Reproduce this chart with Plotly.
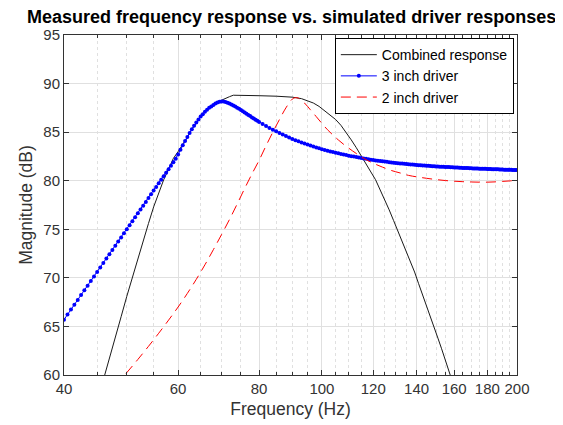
import numpy as np
import plotly.graph_objects as go

# 3 inch driver (simulated): 0.5 Hz steps 40-80 Hz, then 1 Hz steps 81-200 Hz
freq_3in = np.concatenate([np.arange(40, 80.5, 0.5), np.arange(81, 201, 1)])
mag_3in = [
    # 40 - 60 Hz
    65.7, 66.22, 66.73, 67.23, 67.73, 68.23, 68.72, 69.2, 69.67, 70.14,
    70.61, 71.07, 71.53, 71.98, 72.42, 72.86, 73.3, 73.73, 74.16, 74.58,
    75.0, 75.42, 75.83, 76.24, 76.64, 77.04, 77.43, 77.82, 78.21, 78.6,
    78.98, 79.36, 79.73, 80.1, 80.47, 80.83, 81.19, 81.55, 81.9, 82.26,
    # 60 - 80 Hz
    82.7, 83.2, 83.65, 84.1, 84.5, 84.9, 85.3, 85.65, 86.0, 86.3,
    86.6, 86.85, 87.1, 87.3, 87.5, 87.65, 87.8, 87.95, 88.05, 88.12,
    88.15, 88.15, 88.1, 88.03, 87.95, 87.85, 87.75, 87.65, 87.52, 87.4,
    87.27, 87.15, 87.02, 86.9, 86.77, 86.65, 86.52, 86.4, 86.28, 86.16,
    86.05,
    # 81 - 100 Hz
    85.83, 85.62, 85.43, 85.25, 85.08, 84.92, 84.76, 84.6, 84.45, 84.3,
    84.17, 84.05, 83.93, 83.82, 83.72, 83.62, 83.52, 83.42, 83.33, 83.25,
    # 101 - 120 Hz
    83.17, 83.09, 83.02, 82.95, 82.88, 82.82, 82.76, 82.7, 82.64, 82.58,
    82.53, 82.48, 82.43, 82.38, 82.33, 82.29, 82.25, 82.21, 82.17, 82.13,
    # 121 - 140 Hz
    82.09, 82.06, 82.03, 82.0, 81.97, 81.94, 81.91, 81.88, 81.85, 81.83,
    81.8, 81.78, 81.76, 81.74, 81.72, 81.7, 81.68, 81.66, 81.64, 81.62,
    # 141 - 160 Hz
    81.6, 81.59, 81.57, 81.56, 81.54, 81.53, 81.51, 81.5, 81.49, 81.47,
    81.46, 81.45, 81.44, 81.43, 81.42, 81.41, 81.4, 81.39, 81.38, 81.37,
    # 161 - 180 Hz
    81.36, 81.35, 81.34, 81.33, 81.32, 81.31, 81.3, 81.3, 81.29, 81.28,
    81.27, 81.27, 81.26, 81.25, 81.24, 81.24, 81.23, 81.22, 81.22, 81.21,
    # 181 - 200 Hz
    81.2, 81.2, 81.19, 81.18, 81.18, 81.17, 81.17, 81.16, 81.15, 81.15,
    81.14, 81.14, 81.13, 81.13, 81.12, 81.12, 81.11, 81.11, 81.1, 81.1,
]

# 2 inch driver (simulated)
freq_2in = [48, 50, 52, 54, 56, 58, 60, 62, 64, 66, 68, 70, 72, 74, 76, 78,
            80, 82, 84, 86, 88, 90, 91, 92, 94, 96, 98, 100, 102, 104, 106,
            108, 110, 113, 116, 120, 124, 128, 132, 136, 140, 145, 150, 155,
            160, 165, 170, 175, 180, 185, 190, 195, 200]
mag_2in = [58.9, 60.25, 61.6, 62.95, 64.3, 65.65, 67.0, 68.4, 69.85, 71.35,
           72.9, 74.45, 76.0, 77.6, 79.2, 80.7, 82.1, 83.6, 85.0, 86.3, 87.5,
           88.4, 88.55, 88.5, 88.0, 87.3, 86.6, 85.9, 85.25, 84.7, 84.2,
           83.75, 83.35, 82.8, 82.3, 81.8, 81.4, 81.05, 80.8, 80.55, 80.4,
           80.25, 80.12, 80.02, 79.95, 79.9, 79.87, 79.85, 79.85, 79.88,
           79.93, 79.98, 80.05]

# combined (measured) response
freq_comb = [46, 47, 48, 49, 50, 51, 52, 53, 54, 55, 56, 57, 58, 59, 60, 61,
             62, 63, 64, 65, 66, 67, 68, 69, 70, 71, 72, 73, 75, 80, 85, 90,
             93, 95, 97, 99, 101, 103, 105, 107, 109, 111, 113, 115, 117, 119,
             121, 123, 125, 127, 129, 131, 133, 135, 137, 139, 141, 143, 145,
             147, 149, 151, 153, 155, 157, 159, 161]
mag_comb = [59.5, 61.8, 64.0, 66.0, 68.1, 70.1, 72.0, 73.9, 75.6, 77.3, 78.8,
            80.1, 81.2, 82.3, 83.0, 83.7, 84.5, 85.3, 86.0, 86.6, 87.1, 87.5,
            87.85, 88.1, 88.3, 88.5, 88.65, 88.8, 88.8, 88.75, 88.7, 88.6,
            88.45, 88.25, 88.0, 87.65, 87.2, 86.75, 86.3, 85.7, 85.0, 84.2,
            83.4, 82.6, 81.8, 80.9, 80.1, 79.1, 78.1, 77.0, 75.9, 74.8, 73.8,
            72.8, 71.7, 70.6, 69.4, 68.2, 67.1, 66.0, 64.9, 63.8, 62.7, 61.5,
            60.4, 59.3, 58.2]

x_ticks = [40, 60, 80, 100, 120, 140, 160, 180, 200]
x_minor = [f for f in range(45, 200, 5) if f not in x_ticks]
y_ticks = [60, 65, 70, 75, 80, 85, 90, 95]

FONT = "Liberation Sans, Arial, Helvetica, sans-serif"
TXT = "#333333"
GRID = "#e0e0e0"

fig = go.Figure()

fig.add_trace(go.Scatter(
    x=freq_comb, y=mag_comb,
    name="Combined response",
    mode="lines",
    line=dict(color="#1a1a1a", width=1),
))

fig.add_trace(go.Scatter(
    x=freq_3in, y=mag_3in,
    name="3 inch driver",
    mode="lines+markers",
    line=dict(color="#0000ff", width=1),
    marker=dict(color="#0000ff", size=4),
))

fig.add_trace(go.Scatter(
    x=freq_2in, y=mag_2in,
    name="2 inch driver",
    mode="lines",
    line=dict(color="#ff0000", width=1, dash="10px,6px", shape="spline"),
))

# the page body adds an 8 px offset, so the figure is 8 px smaller
fig.update_layout(
    width=555, height=417,
    margin=dict(l=56, r=46, t=27, b=50, autoexpand=False),
    paper_bgcolor="white",
    plot_bgcolor="white",
    font=dict(family=FONT, size=15, color=TXT),
    title=dict(
        text="<b>Measured frequency response vs. simulated driver responses</b>",
        font=dict(family=FONT, size=18, color="black"),
        x=0.511, xanchor="center", y=0.979, yanchor="middle",
    ),
    showlegend=True,
    legend=dict(
        x=0.993, xanchor="right", y=0.991, yanchor="top",
        bgcolor="white", bordercolor="black", borderwidth=1,
        font=dict(family=FONT, size=14, color="black"),
        itemwidth=36,
        tracegroupgap=0,
    ),
)

fig.update_xaxes(
    type="log",
    range=[np.log10(40), np.log10(200)],
    tickvals=x_ticks,
    ticktext=[str(v) for v in x_ticks],
    ticks="inside", ticklen=5, tickcolor=TXT,
    showline=True, linecolor=TXT, linewidth=1, mirror="ticks",
    showgrid=True, gridcolor=GRID, gridwidth=1,
    minor=dict(tickvals=x_minor, ticks="inside", ticklen=3, tickcolor=TXT,
               showgrid=True, gridcolor=GRID, griddash="dot", gridwidth=1),
    zeroline=False,
    automargin=False,
    title=dict(text="Frequency (Hz)", font=dict(size=17.5, color=TXT), standoff=6),
    tickfont=dict(size=15, color=TXT),
)

fig.update_yaxes(
    range=[60, 95],
    tickvals=y_ticks,
    ticks="inside", ticklen=5, tickcolor=TXT,
    showline=True, linecolor=TXT, linewidth=1, mirror="ticks",
    showgrid=True, gridcolor=GRID, gridwidth=1,
    zeroline=False,
    automargin=False,
    title=dict(text="Magnitude (dB)", font=dict(size=17.5, color=TXT), standoff=6),
    tickfont=dict(size=15, color=TXT),
)

fig.write_html("out.html")
